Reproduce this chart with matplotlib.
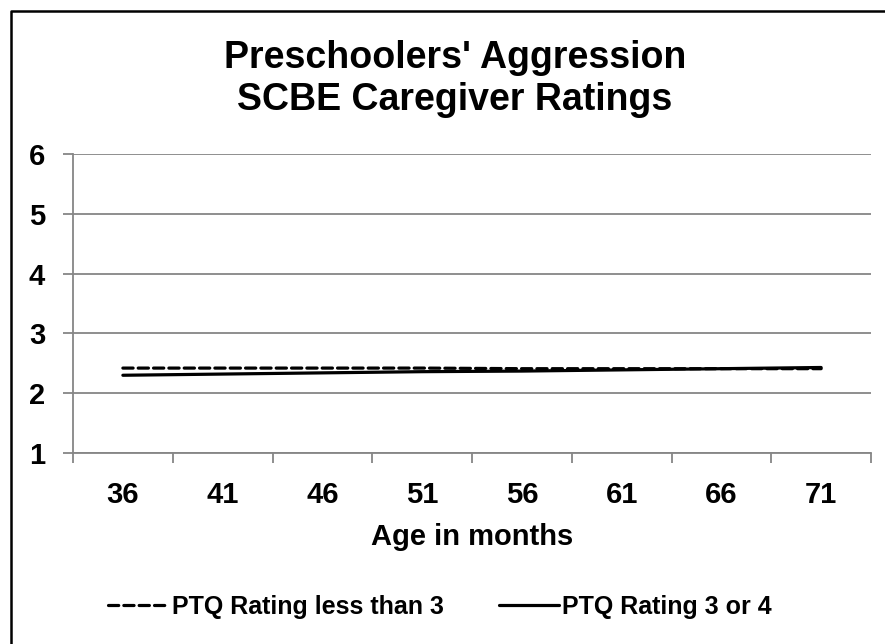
import numpy as np
import matplotlib
matplotlib.use("Agg")
import matplotlib.pyplot as plt
from matplotlib.lines import Line2D

plt.rcParams['font.family'] = ['Liberation Sans', 'DejaVu Sans']
plt.rcParams['font.weight'] = 'bold'

# data
ages = ['36', '41', '46', '51', '56', '61', '66', '71']
ptq_low = [2.42, 2.42, 2.42, 2.42, 2.41, 2.41, 2.41, 2.41]
ptq_high = [2.30, 2.32, 2.34, 2.36, 2.37, 2.39, 2.41, 2.43]
yticks = [1, 2, 3, 4, 5, 6]

grey = '#868686'

fig = plt.figure(figsize=(8.85, 6.44), dpi=100)
ax = fig.add_axes([73/885, 1-453/644, (871-73)/885, (453-154)/644])

x = np.arange(len(ages))
ax.plot(x, ptq_low, color='black', linewidth=2.3, linestyle=(0, (3.2, 1.6)),
        dash_capstyle='round', label='PTQ Rating less than 3')
ax.plot(x, ptq_high, color='black', linewidth=2.3, solid_capstyle='round',
        label='PTQ Rating 3 or 4')

ax.set_xlim(-0.5, len(ages)-0.5)
ax.set_ylim(1, 6)
ax.set_yticks(yticks)
ax.set_yticklabels([str(t) for t in yticks], fontsize=21, fontweight='bold')
ax.set_xticks(x)
ax.set_xticklabels(ages, fontsize=21, fontweight='bold')
ax.set_xticks(np.arange(-0.5, len(ages)), minor=True)
ax.tick_params(axis='x', which='major', length=0, pad=20)
ax.tick_params(axis='x', which='minor', length=7, width=1.3, color=grey, direction='out')
ax.tick_params(axis='y', length=7, width=1.3, color=grey, direction='out', pad=13)

ax.grid(axis='y', color=grey, linewidth=1.3)
ax.set_axisbelow(True)
for s in ['top', 'right']:
    ax.spines[s].set_visible(False)
for s in ['left', 'bottom']:
    ax.spines[s].set_color(grey)
    ax.spines[s].set_linewidth(1.3)

fig.text(455/885, 1-79/644, "Preschoolers' Aggression\nSCBE Caregiver Ratings",
         ha='center', va='center', fontsize=27, fontweight='bold', linespacing=1.2)
fig.text(472/885, 1-537/644, 'Age in months', ha='center', va='center',
         fontsize=21, fontweight='bold')

fig.legend(loc='center', bbox_to_anchor=(440/885, 1-607/644), ncol=2, frameon=False,
           handlelength=2.4, handletextpad=0.15, columnspacing=2.2,
           prop={'weight': 'bold', 'size': 18})

# outer chart border (top and left edges visible)
fig.add_artist(Line2D([11/885, 11/885, 1], [0, 1-11/644, 1-11/644],
                      transform=fig.transFigure, color='black', linewidth=1.8))

fig.savefig('out.png', dpi=100)
